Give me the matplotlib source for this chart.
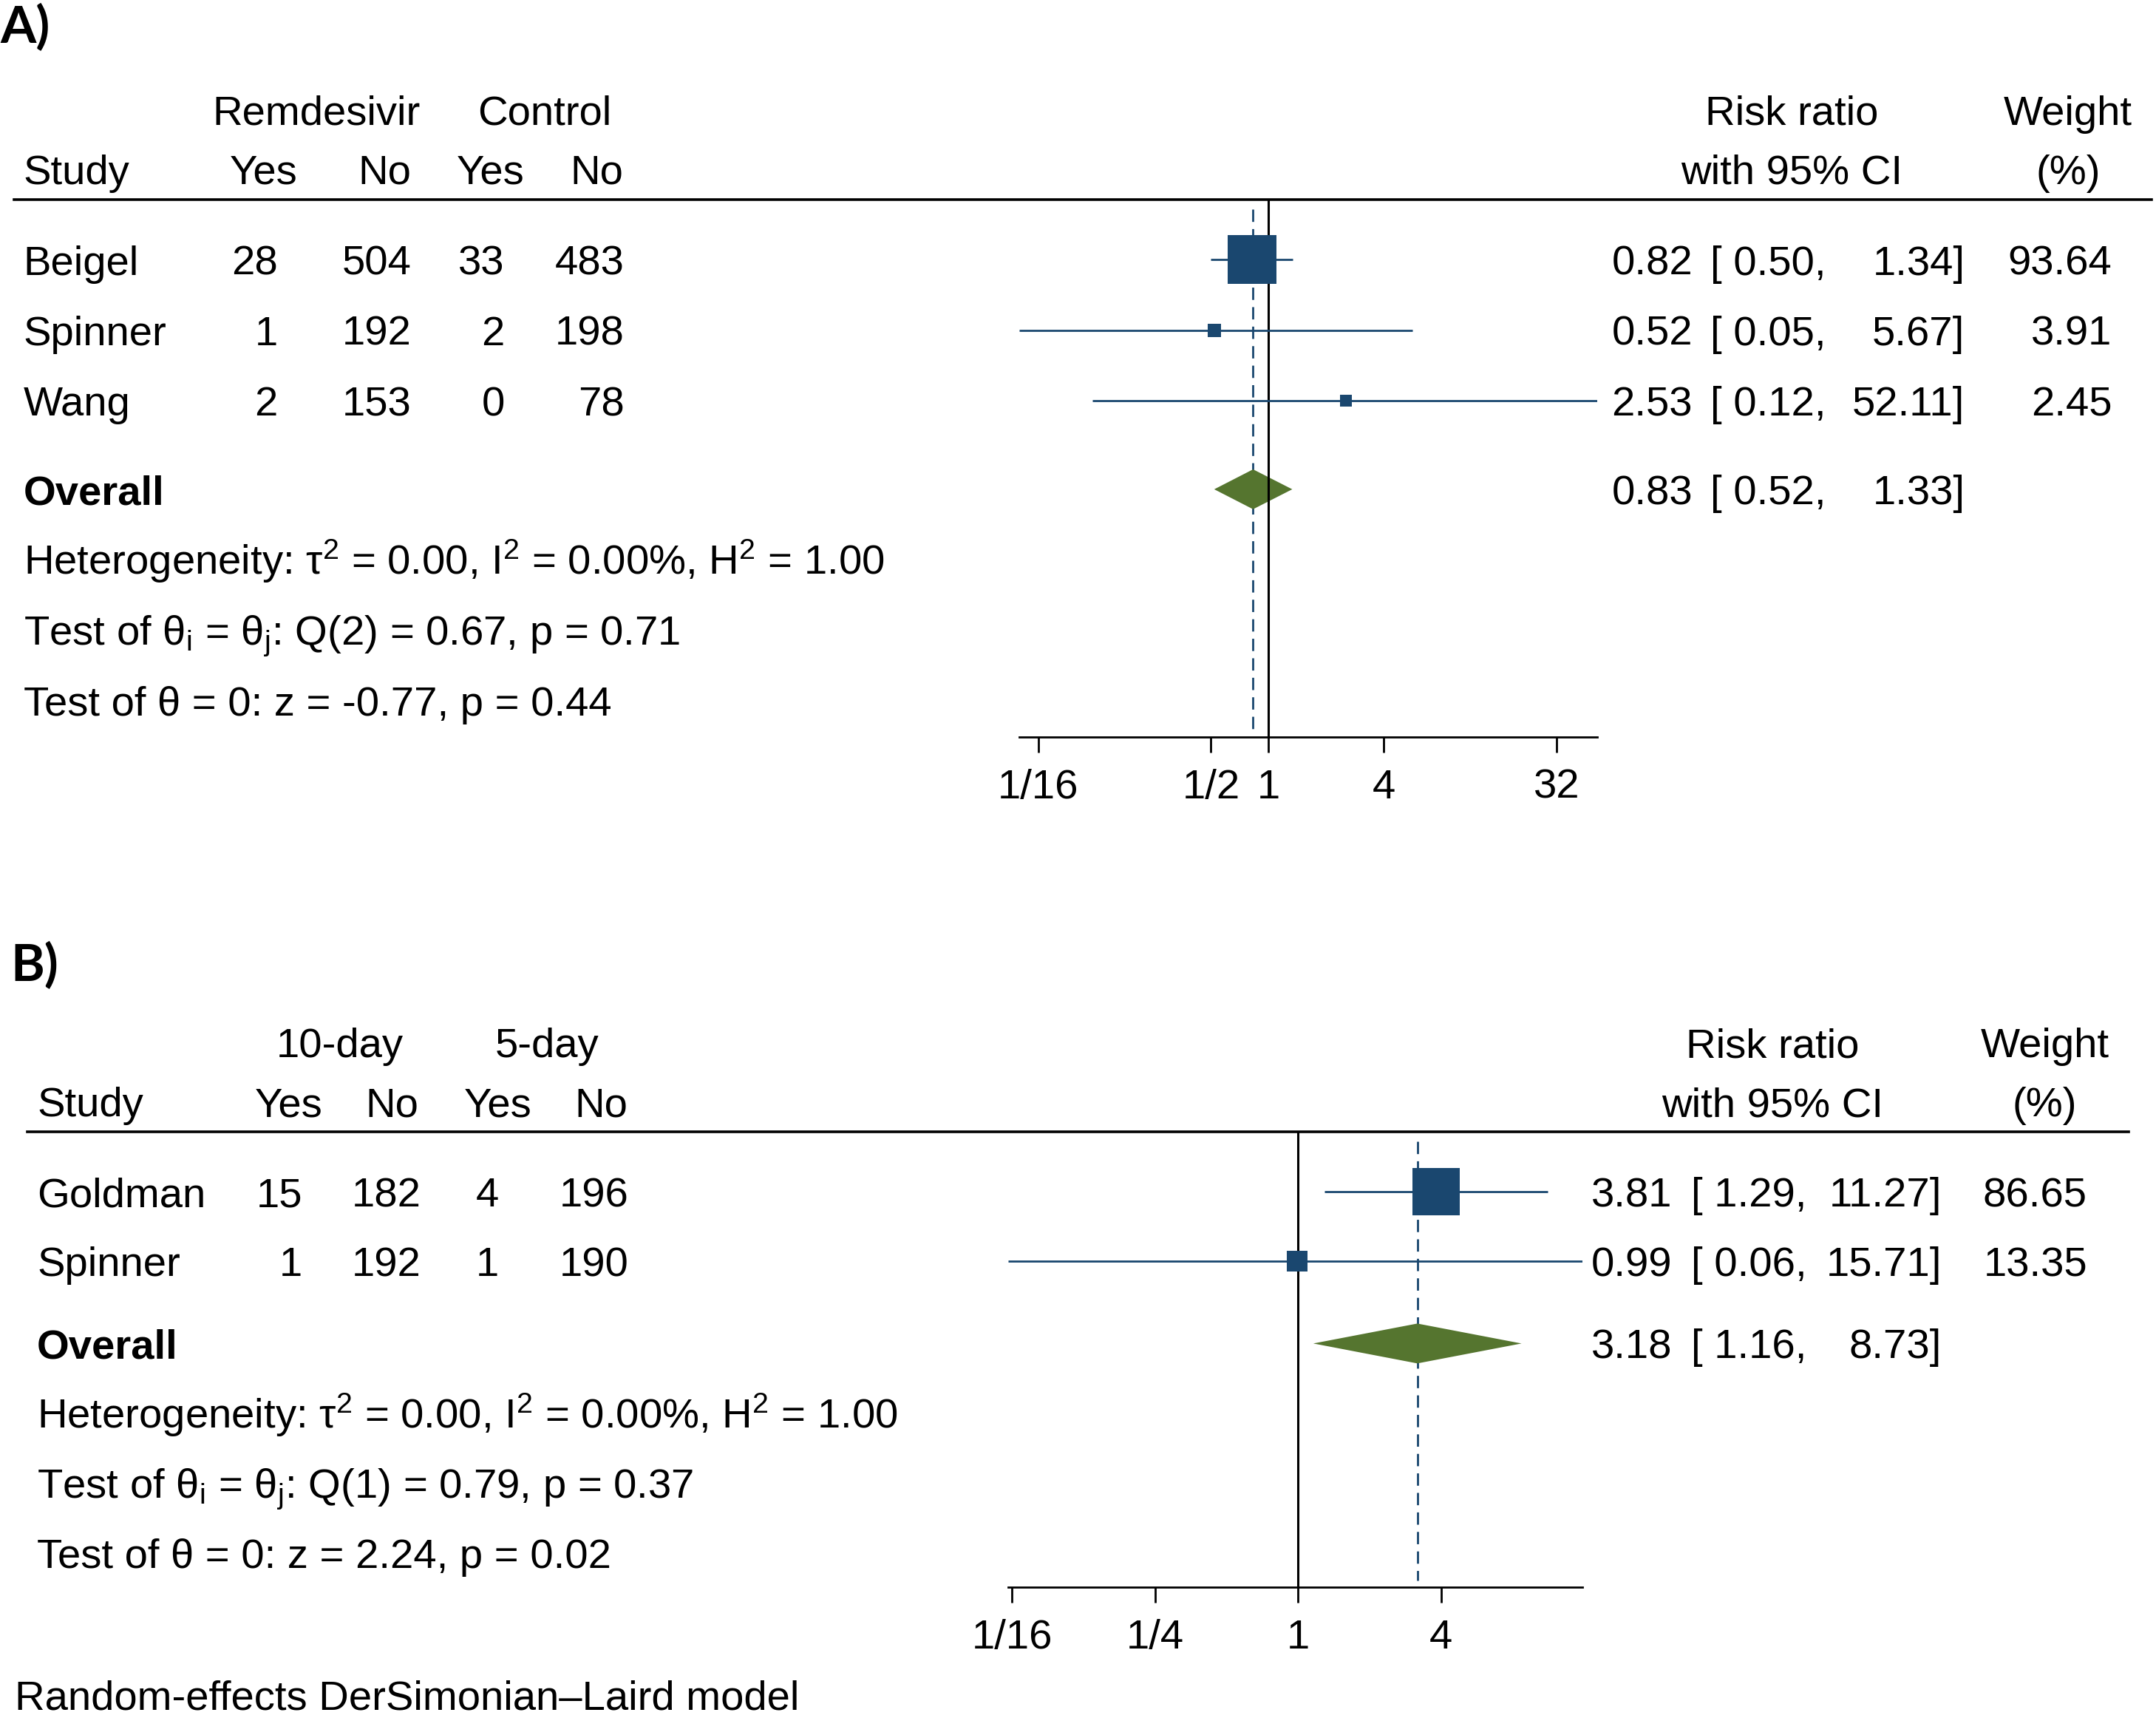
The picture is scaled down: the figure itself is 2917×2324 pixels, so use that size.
import numpy as np
import matplotlib.pyplot as plt
from matplotlib.lines import Line2D
from matplotlib.patches import Polygon
from matplotlib.ticker import NullLocator

plt.rcParams['font.family'] = ['Liberation Sans', 'DejaVu Sans']
plt.rcParams['mathtext.fontset'] = 'custom'
plt.rcParams['mathtext.rm'] = 'Liberation Sans'
plt.rcParams['mathtext.it'] = 'Liberation Sans'
plt.rcParams['mathtext.bf'] = 'Liberation Sans:bold'

# ---- panel A: remdesivir vs control ----
a_studies = ["Beigel", "Spinner", "Wang"]
a_groups = ["Remdesivir", "Control"]
a_trt_yes = [28, 1, 2]
a_trt_no = [504, 192, 153]
a_ctl_yes = [33, 2, 0]
a_ctl_no = [483, 198, 78]
a_rr = [0.82, 0.52, 2.53]
a_lo = [0.50, 0.05, 0.12]
a_hi = [1.34, 5.67, 52.11]
a_weight = [93.64, 3.91, 2.45]
a_overall = [0.83, 0.52, 1.33]
a_het = [0.00, 0.00, 1.00]        # tau2, I2 (%), H2
a_q = [2, 0.67, 0.71]             # df, Q, p
a_z = [-0.77, 0.44]               # z, p
a_ticks = [1/16, 1/2, 1, 4, 32]
a_ticklabels = ["1/16", "1/2", "1", "4", "32"]

# ---- panel B: 10-day vs 5-day ----
b_studies = ["Goldman", "Spinner"]
b_groups = ["10-day", "5-day"]
b_trt_yes = [15, 1]
b_trt_no = [182, 192]
b_ctl_yes = [4, 1]
b_ctl_no = [196, 190]
b_rr = [3.81, 0.99]
b_lo = [1.29, 0.06]
b_hi = [11.27, 15.71]
b_weight = [86.65, 13.35]
b_overall = [3.18, 1.16, 8.73]
b_het = [0.00, 0.00, 1.00]
b_q = [1, 0.79, 0.37]
b_z = [2.24, 0.02]
b_ticks = [1/16, 1/4, 1, 4]
b_ticklabels = ["1/16", "1/4", "1", "4"]

NAVY = '#1a476f'
GREEN = '#55752f'
FS = 40.5
# layout is worked out on a 1568 x 1250 reference grid
W, H = 1568.0, 1250.0
PX = 2917 / W                                  # output pixels per grid unit
HALF_CAP = 0.716 * FS / 0.72 / PX / 2          # half cap height, grid units

fig = plt.figure(figsize=(29.17, 23.24), dpi=100)


def fx(x):
    return x / W


def fy(y):
    return 1 - y / H


def put(x, y, s, ha='left', weight='normal'):
    fig.text(fx(x), fy(y + HALF_CAP), s, ha=ha, va='baseline',
             fontsize=FS, fontweight=weight)


def panel(lay, groups, studies, cols, rr, lo, hi, wt, ov, het, q, z,
          ticks, ticklabels):
    rule_y = lay['rule_y']
    axis_y = lay['axis_y']
    sp = lay['sp']
    rows = [lay['first'] + i * sp for i in range(len(studies))]
    ov_y = rows[-1] + lay['gap']
    stat_y = [ov_y + sp * (k + 1) for k in range(3)]

    # header
    put(lay['grp_x'][0], rule_y - 65, groups[0], ha='center')
    put(lay['grp_x'][1], rule_y - 65, groups[1], ha='center')
    put(lay['study_x'], rule_y - 22, "Study")
    for hx, h in zip(lay['hdr_x'], ["Yes", "No", "Yes", "No"]):
        put(hx, rule_y - 22, h, ha='center')
    put(lay['rr_hdr'], rule_y - 65, "Risk ratio", ha='center')
    put(lay['rr_hdr'], rule_y - 22, "with 95% CI", ha='center')
    put(lay['wt_hdr'], rule_y - 65, "Weight", ha='center')
    put(lay['wt_hdr'], rule_y - 22, "(%)", ha='center')
    fig.add_artist(Line2D([fx(lay['rule_x'][0]), fx(lay['rule_x'][1])],
                          [fy(rule_y)] * 2, color='black', lw=2.6))

    # table rows
    ex, lx, hx, wx = lay['res_x']
    for i, y in enumerate(rows):
        put(lay['study_x'], y, studies[i])
        for cx, col in zip(lay['col_x'], cols):
            put(cx, y, str(col[i]), ha='right')
        put(ex, y, f"{rr[i]:.2f}", ha='right')
        put(lx, y, f"[ {lo[i]:.2f},", ha='right')
        put(hx, y, f"{hi[i]:.2f}]", ha='right')
        put(wx, y, f"{wt[i]:.2f}", ha='right')
    put(lay['study_x'], ov_y, "Overall", weight='bold')
    put(ex, ov_y, f"{ov[0]:.2f}", ha='right')
    put(lx, ov_y, f"[ {ov[1]:.2f},", ha='right')
    put(hx, ov_y, f"{ov[2]:.2f}]", ha='right')
    put(lay['study_x'], stat_y[0],
        f"Heterogeneity: τ$^2$ = {het[0]:.2f}, I$^2$ = {het[1]:.2f}%, "
        f"H$^2$ = {het[2]:.2f}")
    put(lay['study_x'], stat_y[1],
        f"Test of θ$_i$ = θ$_j$: Q({q[0]}) = {q[1]:.2f}, p = {q[2]:.2f}")
    put(lay['study_x'], stat_y[2],
        f"Test of θ = 0: z = {z[0]:.2f}, p = {z[1]:.2f}")

    # forest plot
    xmin, xmax = min(lo), max(hi)
    left = lay['x_one'] + lay['ppd'] * np.log2(xmin)
    right = lay['x_one'] + lay['ppd'] * np.log2(xmax)
    ax = fig.add_axes([fx(left), fy(axis_y), fx(right) - fx(left),
                       (axis_y - rule_y) / H])
    ax.set_xscale('log', base=2)
    ax.set_xlim(xmin, xmax)
    ax.set_ylim(axis_y, rule_y)
    ax.patch.set_alpha(0)
    for s in ['top', 'left', 'right']:
        ax.spines[s].set_visible(False)
    ax.spines['bottom'].set_linewidth(2)
    ax.set_yticks([])
    ax.set_xticks(ticks)
    ax.set_xticklabels(ticklabels)
    ax.xaxis.set_minor_locator(NullLocator())
    ax.tick_params(axis='x', length=15, width=2, pad=16, labelsize=FS)

    ax.axvline(1, color='black', lw=2.2, zorder=2)
    ax.plot([ov[0], ov[0]], [rule_y + 7, axis_y - 5], color=NAVY, lw=2.0,
            ls=(0, (6, 3.5)), zorder=1)
    ax.hlines(rows, lo, hi, color=NAVY, lw=2.0, zorder=3)
    for i, y in enumerate(rows):
        side = (3.3 * np.sqrt(wt[i]) + 3.5) * 1.339
        ax.plot(rr[i], y, marker='s', ms=side, mew=0, color=NAVY, zorder=4)
    h = 14.5
    ax.add_patch(Polygon([(ov[1], ov_y), (ov[0], ov_y - h), (ov[2], ov_y),
                          (ov[0], ov_y + h)], closed=True, color=GREEN,
                         lw=0, zorder=1.5))


lay_a = dict(rule_y=145, axis_y=536, sp=51.3, first=189, gap=64.4,
             rule_x=(10, 1565), study_x=17,
             grp_x=(230, 396), hdr_x=(191.5, 279.5, 356.5, 434),
             col_x=(202, 299, 367, 454),
             res_x=(1231, 1328, 1429, 1536), rr_hdr=1303, wt_hdr=1504,
             x_one=922.6, ppd=41.9)
lay_b = dict(rule_y=823.5, axis_y=1155, sp=50.8, first=867, gap=59.7,
             rule_x=(20, 1548), study_x=27,
             grp_x=(247, 398), hdr_x=(210, 285, 362, 437),
             col_x=(220, 306, 362.6, 457),
             res_x=(1216, 1314, 1412, 1518), rr_hdr=1289, wt_hdr=1487,
             x_one=944, ppd=52)

panel(lay_a, a_groups, a_studies, [a_trt_yes, a_trt_no, a_ctl_yes, a_ctl_no],
      a_rr, a_lo, a_hi, a_weight, a_overall, a_het, a_q, a_z,
      a_ticks, a_ticklabels)
panel(lay_b, b_groups, b_studies, [b_trt_yes, b_trt_no, b_ctl_yes, b_ctl_no],
      b_rr, b_lo, b_hi, b_weight, b_overall, b_het, b_q, b_z,
      b_ticks, b_ticklabels)

fig.text(fx(0), fy(31), "A)", family=['Lato', 'DejaVu Sans'],
         fontweight='bold', fontsize=50, va='baseline')
fig.text(fx(7.7), fy(714), "B)", family=['Lato', 'DejaVu Sans'],
         fontweight='bold', fontsize=50, va='baseline')
put(11, 1233, "Random-effects DerSimonian–Laird model")

fig.savefig("out.png", dpi=100)
